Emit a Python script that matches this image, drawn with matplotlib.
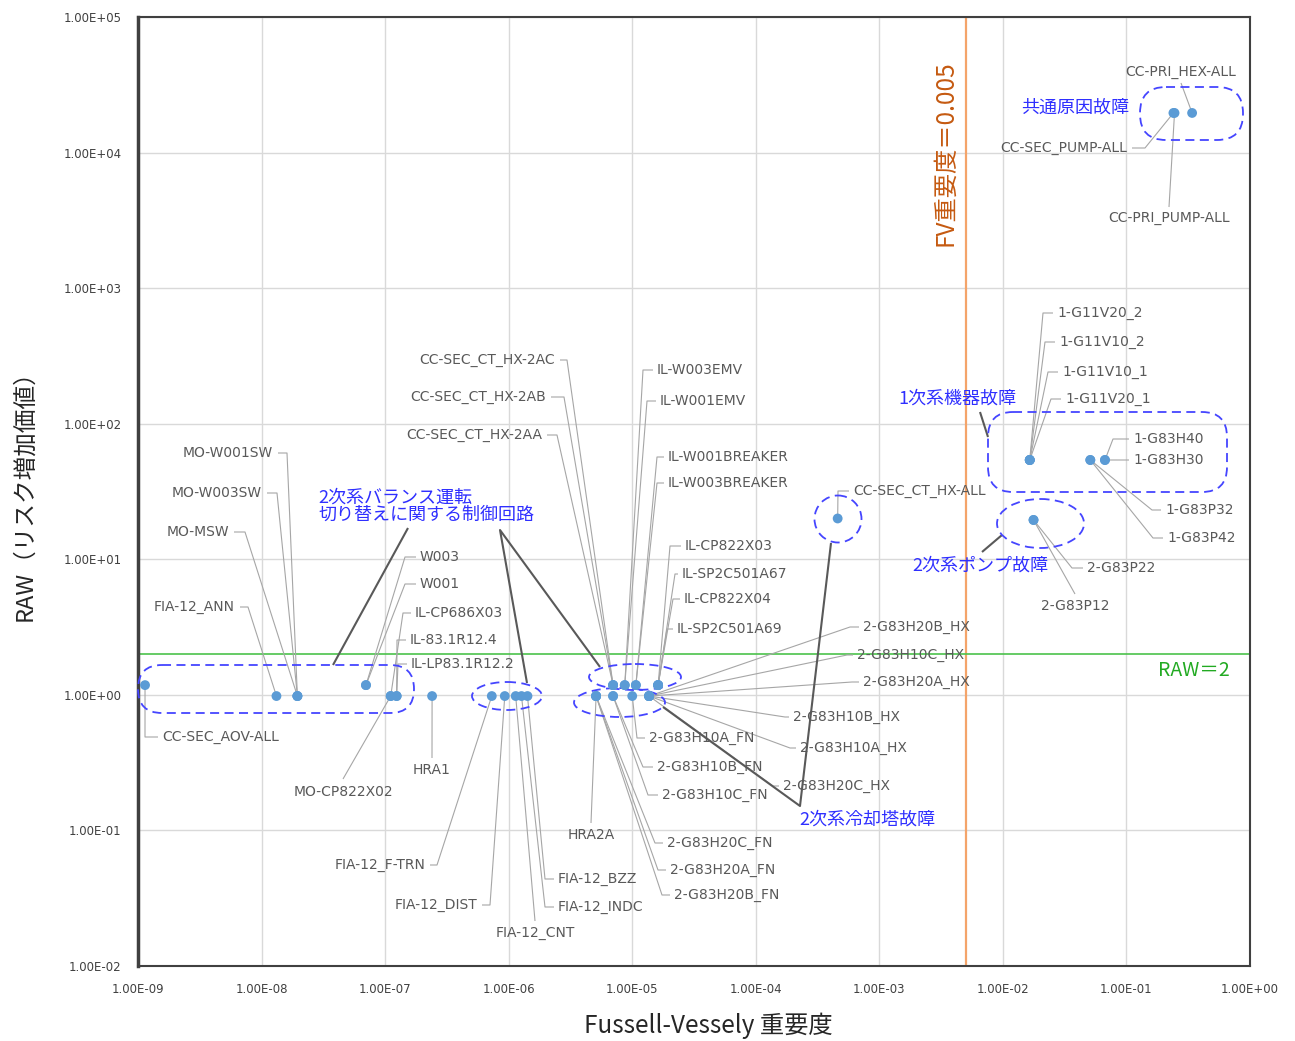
import numpy as np
import matplotlib
matplotlib.use("Agg")
import matplotlib.pyplot as plt
from matplotlib.transforms import Affine2D
from matplotlib.patches import FancyBboxPatch, Ellipse
from matplotlib.lines import Line2D
from matplotlib.ticker import FixedLocator, FixedFormatter, NullLocator

# ---------------- data ----------------
names = [
    "CC-PRI_HEX-ALL", "CC-SEC_PUMP-ALL", "CC-PRI_PUMP-ALL",
    "1-G11V20_2", "1-G11V10_2", "1-G11V10_1", "1-G11V20_1",
    "1-G83H40", "1-G83H30", "1-G83P32", "1-G83P42",
    "2-G83P22", "2-G83P12", "CC-SEC_CT_HX-ALL",
    "CC-SEC_CT_HX-2AC", "CC-SEC_CT_HX-2AB", "CC-SEC_CT_HX-2AA",
    "IL-W003EMV", "IL-W001EMV", "IL-W001BREAKER", "IL-W003BREAKER",
    "IL-CP822X03", "IL-SP2C501A67", "IL-CP822X04", "IL-SP2C501A69",
    "2-G83H20B_HX", "2-G83H10C_HX", "2-G83H20A_HX", "2-G83H10B_HX", "2-G83H10A_HX", "2-G83H20C_HX",
    "2-G83H10A_FN", "2-G83H10B_FN", "2-G83H10C_FN",
    "2-G83H20C_FN", "2-G83H20A_FN", "2-G83H20B_FN", "HRA2A",
    "FIA-12_BZZ", "FIA-12_INDC", "FIA-12_CNT", "FIA-12_DIST", "FIA-12_F-TRN",
    "HRA1", "MO-CP822X02", "IL-LP83.1R12.2", "IL-83.1R12.4", "IL-CP686X03",
    "W001", "W003", "MO-MSW", "MO-W003SW", "MO-W001SW", "FIA-12_ANN", "CC-SEC_AOV-ALL",
]
fv = [
    0.34, 0.24, 0.245,
    0.0165, 0.0165, 0.0165, 0.0165,
    0.067, 0.067, 0.051, 0.051,
    0.0177, 0.0177, 4.6e-4,
    7.0e-6, 7.0e-6, 7.0e-6,
    8.7e-6, 8.7e-6, 1.07e-5, 1.07e-5,
    1.62e-5, 1.62e-5, 1.62e-5, 1.62e-5,
    1.37e-5, 1.37e-5, 1.37e-5, 1.37e-5, 1.37e-5, 1.37e-5,
    1.0e-5, 7.0e-6, 7.0e-6,
    5.1e-6, 5.1e-6, 5.1e-6, 5.1e-6,
    1.42e-6, 1.27e-6, 1.14e-6, 9.3e-7, 7.3e-7,
    2.4e-7, 1.11e-7, 1.24e-7, 1.24e-7, 1.11e-7,
    7.0e-8, 7.0e-8, 1.95e-8, 1.95e-8, 1.95e-8, 1.32e-8, 1.14e-9,
]
raw = [
    1.96e4, 1.96e4, 1.96e4,
    54, 54, 54, 54,
    54, 54, 54, 54,
    19.5, 19.5, 20.0,
    1.18, 1.18, 1.18,
    1.18, 1.18, 1.18, 1.18,
    1.18, 1.18, 1.18, 1.18,
    0.98, 0.98, 0.98, 0.98, 0.98, 0.98,
    0.98, 0.98, 0.98,
    0.98, 0.98, 0.98, 0.98,
    0.98, 0.98, 0.98, 0.98, 0.98,
    0.98, 0.98, 0.98, 0.98, 0.98,
    1.18, 1.18, 0.98, 0.98, 0.98, 0.98, 1.18,
]
fv_threshold = 0.005
raw_threshold = 2.0
x_ticks = [1e-9, 1e-8, 1e-7, 1e-6, 1e-5, 1e-4, 1e-3, 1e-2, 1e-1, 1e0]
x_tick_labels = ["1.00E-09", "1.00E-08", "1.00E-07", "1.00E-06", "1.00E-05",
                 "1.00E-04", "1.00E-03", "1.00E-02", "1.00E-01", "1.00E+00"]
y_ticks = [1e-2, 1e-1, 1e0, 1e1, 1e2, 1e3, 1e4, 1e5]
y_tick_labels = ["1.00E-02", "1.00E-01", "1.00E+00", "1.00E+01",
                 "1.00E+02", "1.00E+03", "1.00E+04", "1.00E+05"]
x_label = "Fussell-Vessely 重要度"
y_label = "RAW（リスク増加価値）"
fv_text = "FV重要度＝0.005"
raw_text = "RAW＝2"
group_texts = ["共通原因故障", "1次系機器故障", "2次系ポンプ故障", "2次系冷却塔故障",
               "2次系バランス運転\n切り替えに関する制御回路"]

# ---------------- layout (reference pixel positions, top-left origin) ----------------
# label: (text x, text y, alignment, bend x / end y)
label_layout = {
    "CC-PRI_HEX-ALL": (1181, 72, "center", 83),
    "CC-SEC_PUMP-ALL": (1127, 148, "right", 1145),
    "CC-PRI_PUMP-ALL": (1169, 218, "center", 207),
    "1-G11V20_2": (1057, 313, "left", 1043),
    "1-G11V10_2": (1059, 342, "left", 1045),
    "1-G11V10_1": (1062, 372, "left", 1048),
    "1-G11V20_1": (1065, 399, "left", 1051),
    "1-G83H40": (1133, 439, "left", 1113),
    "1-G83H30": (1133, 460, "left", None),
    "1-G83P32": (1165, 510, "left", 1152),
    "1-G83P42": (1167, 538, "left", 1153),
    "2-G83P22": (1087, 568, "left", 1072),
    "2-G83P12": (1075, 606, "center", 594),
    "CC-SEC_CT_HX-ALL": (853, 491, "left", 838),
    "CC-SEC_CT_HX-2AC": (555, 360, "right", 567),
    "CC-SEC_CT_HX-2AB": (546, 397, "right", 564),
    "CC-SEC_CT_HX-2AA": (542, 435, "right", 557),
    "IL-W003EMV": (657, 370, "left", 643),
    "IL-W001EMV": (660, 401, "left", 647),
    "IL-W001BREAKER": (668, 457, "left", 657),
    "IL-W003BREAKER": (668, 483, "left", 657),
    "IL-CP822X03": (685, 546, "left", 670),
    "IL-SP2C501A67": (682, 574, "left", 675),
    "IL-CP822X04": (684, 599, "left", 673),
    "IL-SP2C501A69": (677, 629, "left", 667),
    "2-G83H20B_HX": (863, 627, "left", 850),
    "2-G83H10C_HX": (857, 655, "left", 847),
    "2-G83H20A_HX": (863, 682, "left", 852),
    "2-G83H10B_HX": (793, 717, "left", 785),
    "2-G83H10A_HX": (800, 748, "left", 790),
    "2-G83H20C_HX": (783, 786, "left", 773),
    "2-G83H10A_FN": (649, 738, "left", 637),
    "2-G83H10B_FN": (657, 767, "left", 643),
    "2-G83H10C_FN": (662, 795, "left", 648),
    "2-G83H20C_FN": (667, 843, "left", 655),
    "2-G83H20A_FN": (670, 870, "left", 658),
    "2-G83H20B_FN": (674, 895, "left", 662),
    "HRA2A": (591, 835, "center", 823),
    "FIA-12_BZZ": (558, 879, "left", 545),
    "FIA-12_INDC": (558, 907, "left", 545),
    "FIA-12_CNT": (535, 933, "center", 921),
    "FIA-12_DIST": (477, 905, "right", 490),
    "FIA-12_F-TRN": (425, 865, "right", 437),
    "HRA1": (432, 770, "center", 758),
    "MO-CP822X02": (343, 792, "center", 779),
    "IL-LP83.1R12.2": (411, 664, "left", 398),
    "IL-83.1R12.4": (410, 640, "left", 397),
    "IL-CP686X03": (415, 613, "left", 403),
    "W001": (420, 584, "left", 405),
    "W003": (420, 557, "left", 405),
    "MO-MSW": (229, 532, "right", 245),
    "MO-W003SW": (262, 493, "right", 277),
    "MO-W001SW": (273, 453, "right", 287),
    "FIA-12_ANN": (235, 607, "right", 248),
    "CC-SEC_AOV-ALL": (162, 737, "left", 145),
}

W, H = 1295, 1041
fig = plt.figure(figsize=(W / 100, H / 100), dpi=100)
ax = fig.add_axes([138 / W, 1 - 966 / H, (1250 - 138) / W, (966 - 17) / H])
ax.set_xscale("log")
ax.set_yscale("log")
ax.set_xlim(x_ticks[0], x_ticks[-1])
ax.set_ylim(y_ticks[0], y_ticks[-1])
ax.xaxis.set_major_locator(FixedLocator(x_ticks))
ax.xaxis.set_major_formatter(FixedFormatter(x_tick_labels))
ax.yaxis.set_major_locator(FixedLocator(y_ticks))
ax.yaxis.set_major_formatter(FixedFormatter(y_tick_labels))
ax.xaxis.set_minor_locator(NullLocator())
ax.yaxis.set_minor_locator(NullLocator())
ax.tick_params(length=0, labelsize=8.5, labelcolor="#404040")
ax.tick_params(axis="x", pad=12)
ax.tick_params(axis="y", pad=12)
ax.grid(True, color="#D9D9D9", lw=1.0)
ax.set_axisbelow(True)
for s in ["top", "right", "bottom"]:
    ax.spines[s].set_color("#404040")
    ax.spines[s].set_linewidth(1.5)
ax.spines["left"].set_color("#404040")
ax.spines["left"].set_linewidth(2.5)

ax.axvline(fv_threshold, color="#F4A46A", lw=1.6, zorder=2)
ax.axhline(raw_threshold, color="#4CC24C", lw=1.2, zorder=2)

ax.scatter(fv, raw, s=50, color="#5B9BD5", zorder=6, clip_on=False, edgecolors="none")

# transform for reference pixel coordinates
PX = Affine2D().scale(1 / 100, -1 / 100).translate(0, H / 100) + fig.dpi_scale_trans
PXinv = PX.inverted()

def to_px(x, y):
    return PXinv.transform(ax.transData.transform((x, y)))

def pline(xs, ys, color="#A6A6A6", lw=0.8, z=4):
    ax.add_artist(Line2D(xs, ys, transform=PX, color=color, lw=lw, zorder=z,
                         clip_on=False, solid_capstyle="butt"))

CJK = ["Noto Sans CJK JP", "DejaVu Sans"]
lab_color = "#595959"

for name, x, y in zip(names, fv, raw):
    tx, ty, ha, b = label_layout[name]
    px, py = to_px(x, y)
    if ha == "left":
        if b is None:
            pline([px, tx - 4], [py, ty])
        else:
            pline([px, b, tx - 4], [py, ty, ty])
    elif ha == "right":
        pline([px, b, tx + 5], [py, ty, ty])
    else:
        pline([px, tx], [py, b])
    ax.text(tx, ty, name, transform=PX, ha=ha, va="center", fontsize=10,
            color=lab_color, zorder=7, clip_on=False)

# group shapes
blue = "#4545FF"
dash = (0, (5, 3))

def stadium(x0, y0, x1, y1, r):
    p = FancyBboxPatch((x0, y0), x1 - x0, y1 - y0,
                       boxstyle=f"round,pad=0,rounding_size={r}",
                       transform=PX, fill=False, ec=blue, lw=1.3, ls=dash,
                       zorder=5, clip_on=False)
    ax.add_artist(p)

def ellip(cx, cy, w, h):
    ax.add_artist(Ellipse((cx, cy), w, h, transform=PX, fill=False, ec=blue,
                          lw=1.3, ls=dash, zorder=5, clip_on=False))

stadium(1140, 87, 1243, 140, 26)
stadium(988, 412, 1227, 492, 25)
ellip(1040.5, 523.5, 87, 49)
ellip(838, 519, 47, 47)
stadium(138, 665, 414, 713, 24)
ellip(507, 696, 70, 28)
ellip(635, 677, 92, 26)
ellip(619.5, 702.5, 91, 29)

# pointer lines for group labels
dark = "#595959"
pline([980, 988], [412, 437], color=dark, lw=1.5)
pline([982, 1002], [552, 535], color=dark, lw=1.5)
pline([831, 800, 663], [543, 806, 707], color=dark, lw=1.5)
pline([408, 333], [528, 665], color=dark, lw=1.5)
pline([527, 500, 600], [683, 530, 667], color=dark, lw=1.5)

gtxt_pos = [(1075, 108, "center"), (957, 399, "center"), (980, 566, "center"),
            (867, 820, "center"), (318, 506, "left")]
for t, (gx, gy, gha) in zip(group_texts, gtxt_pos):
    ax.text(gx, gy, t, transform=PX, ha=gha, va="center", fontsize=13,
            color="#2F2FFF", family=CJK, zorder=7, linespacing=0.95, clip_on=False)

ax.text(945, 153, fv_text, transform=PX, rotation=90, ha="center", va="center",
        fontsize=17.5, color="#C55A11", family=CJK, zorder=7)
ax.text(1194, 670, raw_text, transform=PX, ha="center", va="center",
        fontsize=14, color="#22AA22", family=CJK, zorder=7)

fig.text(708, 1026, x_label, transform=PX, ha="center", va="center", fontsize=17.5,
         color="#262626", family=CJK)
fig.text(25, 490, y_label, transform=PX, ha="center", va="center", rotation=90,
         fontsize=17, color="#262626", family=CJK)

fig.savefig("out.png", dpi=100)
